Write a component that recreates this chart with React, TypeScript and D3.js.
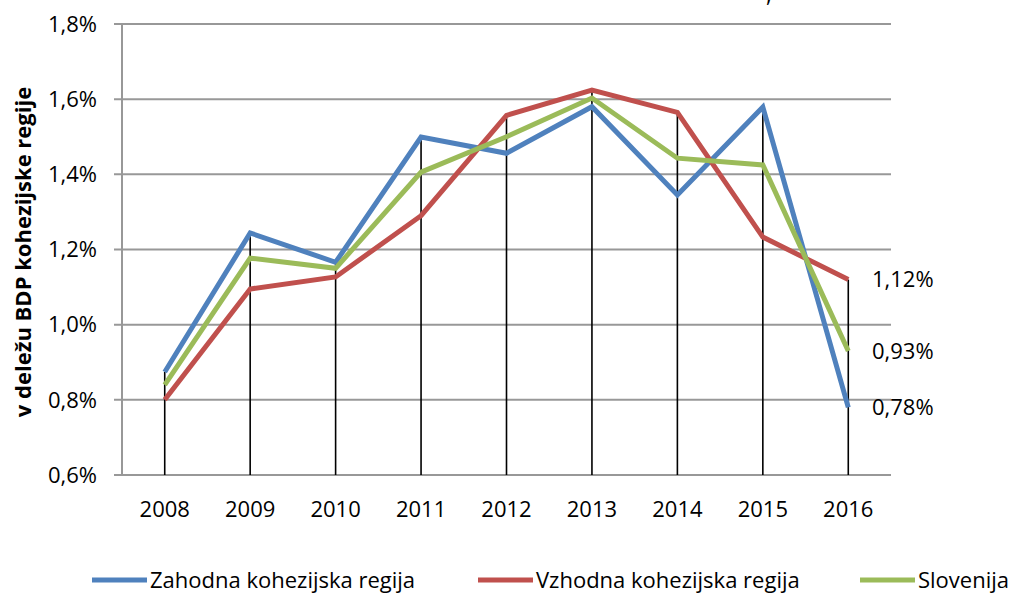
import * as d3 from "d3";

const YEARS = ["2008", "2009", "2010", "2011", "2012", "2013", "2014", "2015", "2016"];
const ZAHODNA = [0.874, 1.244, 1.166, 1.499, 1.456, 1.58, 1.345, 1.579, 0.78];
const VZHODNA = [0.8, 1.095, 1.127, 1.29, 1.557, 1.624, 1.565, 1.233, 1.12];
const SLOVENIJA = [0.84, 1.177, 1.15, 1.406, 1.5, 1.603, 1.443, 1.425, 0.93];
const Y_TICKS = [0.6, 0.8, 1.0, 1.2, 1.4, 1.6, 1.8];
const END_LABELS = ["1,12%", "0,93%", "0,78%"];

const SERIES = [
  { name: "Zahodna kohezijska regija", values: ZAHODNA, color: "#4F81BD" },
  { name: "Vzhodna kohezijska regija", values: VZHODNA, color: "#C0504D" },
  { name: "Slovenija", values: SLOVENIJA, color: "#9BBB59" },
];

const W = 1011;
const H = 594;
const PLOT = { left: 122, right: 891, top: 24, bottom: 475 };
const FONT = "'Open Sans', sans-serif";

const fmt = (v: number) => v.toFixed(1).replace(".", ",") + "%";

export default function App() {
  const x = d3
    .scalePoint<string>()
    .domain(YEARS)
    .range([PLOT.left, PLOT.right])
    .padding(0.5);
  const y = d3.scaleLinear().domain([0.6, 1.8]).range([PLOT.bottom, PLOT.top]);

  const line = d3
    .line<number>()
    .x((_, i) => x(YEARS[i]) as number)
    .y((d) => y(d));

  const endVals = [VZHODNA[8], SLOVENIJA[8], ZAHODNA[8]];
  const legendX = [92, 478, 860];

  return (
    <svg
      width={W}
      height={H}
      style={{ position: "absolute", left: 0, top: 0, background: "#fff" }}
      fontFamily={FONT}
    >
      {/* cut-off title fragment */}
      <text x={766} y={2} fontSize={22} fill="#000">,</text>

      {/* grid */}
      {Y_TICKS.map((t) => (
        <g key={t}>
          <line x1={PLOT.left - 8} x2={PLOT.right} y1={y(t)} y2={y(t)} stroke="#989898" strokeWidth={2} />
          <text x={97} y={y(t)} dy="0.35em" textAnchor="end" fontSize={22} fill="#000">
            {fmt(t)}
          </text>
        </g>
      ))}
      <line x1={PLOT.left} x2={PLOT.left} y1={PLOT.top} y2={PLOT.bottom} stroke="#989898" strokeWidth={2} />

      {/* drop lines */}
      {YEARS.map((yr, i) => {
        const top = Math.max(ZAHODNA[i], VZHODNA[i], SLOVENIJA[i]);
        return (
          <line key={yr} x1={x(yr)} x2={x(yr)} y1={y(top)} y2={PLOT.bottom} stroke="#000" strokeWidth={1.6} />
        );
      })}

      {/* x labels */}
      {YEARS.map((yr) => (
        <text key={yr} x={x(yr)} y={517} textAnchor="middle" fontSize={22} fill="#000">
          {yr}
        </text>
      ))}

      {/* series */}
      {SERIES.map((s) => (
        <path key={s.name} d={line(s.values) ?? ""} fill="none" stroke={s.color} strokeWidth={5} strokeLinejoin="miter" />
      ))}

      {/* end labels */}
      {END_LABELS.map((lab, i) => (
        <text key={lab} x={872} y={y(endVals[i])} dy="0.35em" fontSize={22} fill="#000">
          {lab}
        </text>
      ))}

      {/* y title */}
      <text
        transform={`translate(31,252) rotate(-90)`}
        textAnchor="middle"
        fontSize={22}
        fontWeight="bold"
        fill="#000"
      >
        v deležu BDP kohezijske regije
      </text>

      {/* legend */}
      {SERIES.map((s, i) => (
        <g key={s.name}>
          <line x1={legendX[i]} x2={legendX[i] + 55} y1={580} y2={580} stroke={s.color} strokeWidth={5} />
          <text x={legendX[i] + 58} y={580} dy="0.35em" fontSize={22} fill="#000">
            {s.name}
          </text>
        </g>
      ))}
    </svg>
  );
}
